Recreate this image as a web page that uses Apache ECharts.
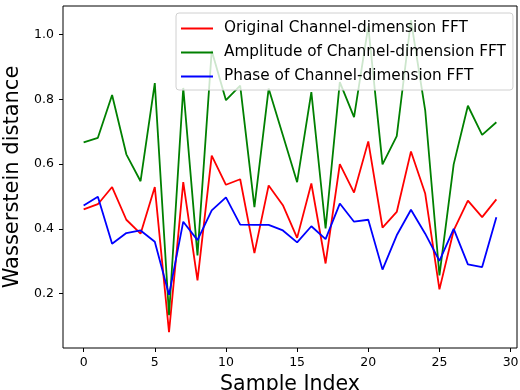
<!DOCTYPE html>
<html><head><meta charset="utf-8">
<script src="https://cdn.jsdelivr.net/npm/echarts@6/dist/echarts.min.js"></script>
<style>html,body{margin:0;padding:0;background:#fff}#c{width:520px;height:390px}</style>
</head><body><div id="c"></div>
<script>
const sampleIndex = [0,1,2,3,4,5,6,7,8,9,10,11,12,13,14,15,16,17,18,19,20,21,22,23,24,25,26,27,28,29];
const originalFFT = [0.460,0.476,0.529,0.428,0.385,0.529,0.081,0.544,0.241,0.626,0.536,0.553,0.325,0.534,0.473,0.372,0.540,0.293,0.600,0.512,0.670,0.404,0.452,0.639,0.509,0.213,0.395,0.487,0.436,0.491];
const amplitudeFFT = [0.667,0.681,0.813,0.630,0.547,0.850,0.133,0.835,0.318,0.950,0.797,0.842,0.467,0.833,0.689,0.544,0.822,0.401,0.853,0.745,1.025,0.599,0.686,1.044,0.766,0.256,0.599,0.780,0.690,0.729];
const phaseFFT = [0.472,0.499,0.354,0.387,0.395,0.360,0.196,0.422,0.365,0.457,0.497,0.413,0.412,0.412,0.395,0.358,0.408,0.368,0.478,0.422,0.428,0.274,0.380,0.459,0.385,0.301,0.400,0.290,0.282,0.436];
const xTicks = [0,5,10,15,20,25,30];
const yTicks = [0.2,0.4,0.6,0.8,1.0];
const seriesNames = ['Original Channel-dimension FFT','Amplitude of Channel-dimension FFT','Phase of Channel-dimension FFT'];
const seriesColors = ['#ff0000','#008000','#0000ff'];
const seriesData = [originalFFT, amplitudeFFT, phaseFFT];

const font = 'DejaVu Sans';
const chart = echarts.init(document.getElementById('c'), null, {renderer:'canvas'});
chart.setOption({
  animation:false,
  grid:{left:63,right:3,top:6,bottom:42,show:true,borderColor:'#000',borderWidth:1,backgroundColor:'transparent',outerBoundsMode:'none',containLabel:false},
  xAxis:{type:'value',min:-1.45,max:30.45,
    name:'Sample Index',nameLocation:'middle',nameGap:25,
    nameTextStyle:{fontFamily:font,fontSize:20.5,color:'#000'},
    axisLine:{show:false,onZero:false},splitLine:{show:false},
    axisTick:{show:true,length:4,customValues:xTicks,lineStyle:{color:'#000'}},
    axisLabel:{fontFamily:font,fontSize:12.5,color:'#000',margin:8,customValues:xTicks}},
  yAxis:{type:'value',min:0.032,max:1.088,
    name:'Wasserstein distance',nameLocation:'middle',nameGap:39,
    nameTextStyle:{fontFamily:font,fontSize:21,color:'#000'},
    axisLine:{show:false,onZero:false},splitLine:{show:false},
    axisTick:{show:true,length:4,customValues:yTicks,lineStyle:{color:'#000'}},
    axisLabel:{fontFamily:font,fontSize:12.5,color:'#000',margin:9,customValues:yTicks,formatter:v=>v.toFixed(1)}},
  legend:{orient:'vertical',left:176,top:13,icon:'rect',itemWidth:32,itemHeight:2,itemGap:9,
    padding:[8,7,6,5],backgroundColor:'rgba(255,255,255,0.8)',borderColor:'#d0d0d0',borderWidth:1,borderRadius:3,
    textStyle:{fontFamily:font,fontSize:15.3,color:'#000',padding:[0,0,0,6]},
    data:seriesNames},
  series:seriesData.map((d,k)=>({name:seriesNames[k],type:'line',showSymbol:false,symbol:'none',
    data:sampleIndex.map((x,i)=>[x,d[i]]),lineStyle:{color:seriesColors[k],width:1.8},itemStyle:{color:seriesColors[k]},z:2}))
});
</script></body></html>
